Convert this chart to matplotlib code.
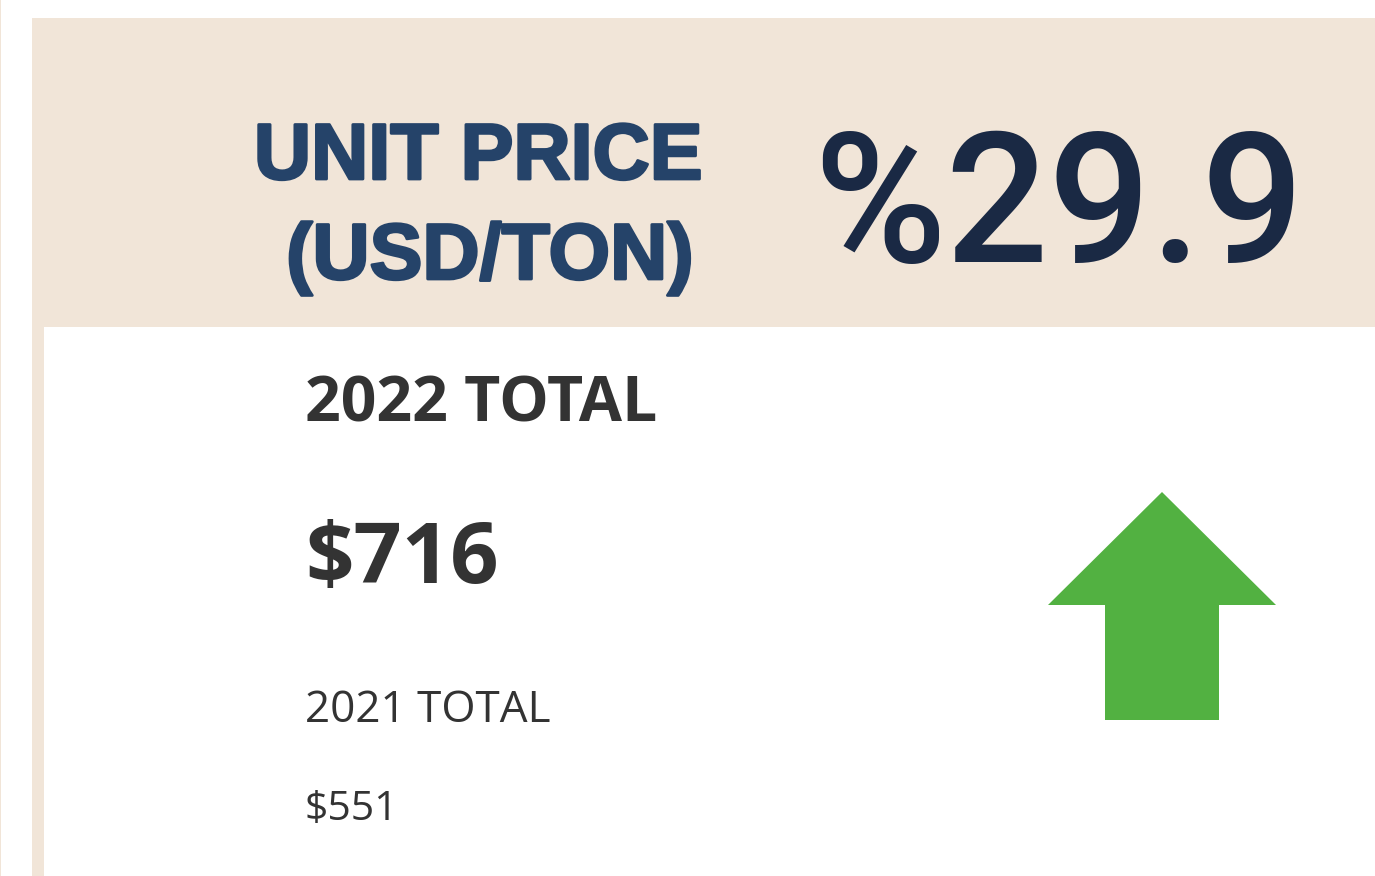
import matplotlib.pyplot as plt
import matplotlib.patheffects as pe
from matplotlib.patches import Rectangle

# KPI card values
title_lines = ['UNIT PRICE', '(USD/TON)']
change_pct = 29.9
year_labels = ['2022 TOTAL', '2021 TOTAL']
totals = [716, 551]

BEIGE = '#f1e5d8'
NAVY = '#254369'
DARK_NAVY = '#1a2944'
GREY = '#333333'
GREEN = '#52b141'

W, H = 1375, 876
fig = plt.figure(figsize=(W / 100, H / 100), dpi=100)
ax = fig.add_axes([0, 0, 1, 1])
ax.set_xlim(0, W)
ax.set_ylim(H, 0)
ax.axis('off')

# card background pieces
ax.add_patch(Rectangle((0, 0), 1.5, H, color=BEIGE, lw=0))
ax.add_patch(Rectangle((32, 18), W - 32, 309, color=BEIGE, lw=0))
ax.add_patch(Rectangle((32, 327), 12, H - 327, color=BEIGE, lw=0))

# header (stroke thickens the bold face towards a black weight)
heavy = [pe.withStroke(linewidth=2, foreground=NAVY)]
ax.text(478, 179, title_lines[0], ha='center', va='baseline', fontsize=57,
        fontweight='bold', color=NAVY, family='Liberation Sans', path_effects=heavy)
ax.text(490, 279, title_lines[1], ha='center', va='baseline', fontsize=57,
        fontweight='bold', color=NAVY, family='Liberation Sans', path_effects=heavy)
ax.text(1059, 262, f'%{change_pct}', ha='center', va='baseline', fontsize=130,
        fontweight='medium', color=DARK_NAVY, family='Roboto')

# totals
ax.text(305, 422, year_labels[0], ha='left', va='baseline', fontsize=45,
        fontweight='bold', color=GREY, family='Open Sans')
ax.text(305, 583, f'${totals[0]}', ha='left', va='baseline', fontsize=61,
        fontweight='bold', color=GREY, family='Open Sans')
ax.text(305, 722, year_labels[1], ha='left', va='baseline', fontsize=31.7,
        color=GREY, family='Open Sans')
ax.text(305, 820, f'${totals[1]}', ha='left', va='baseline', fontsize=29.5,
        color=GREY, family='Open Sans')

# trend arrow (up when current total beats last year)
up = totals[0] > totals[1]
base_y, tip_y = (720, 492) if up else (492, 720)
ax.arrow(1162, base_y, 0, tip_y - base_y, width=114, head_width=228,
         head_length=113, length_includes_head=True, color=GREEN, lw=0)

fig.savefig('out.png', dpi=100, facecolor='white')
